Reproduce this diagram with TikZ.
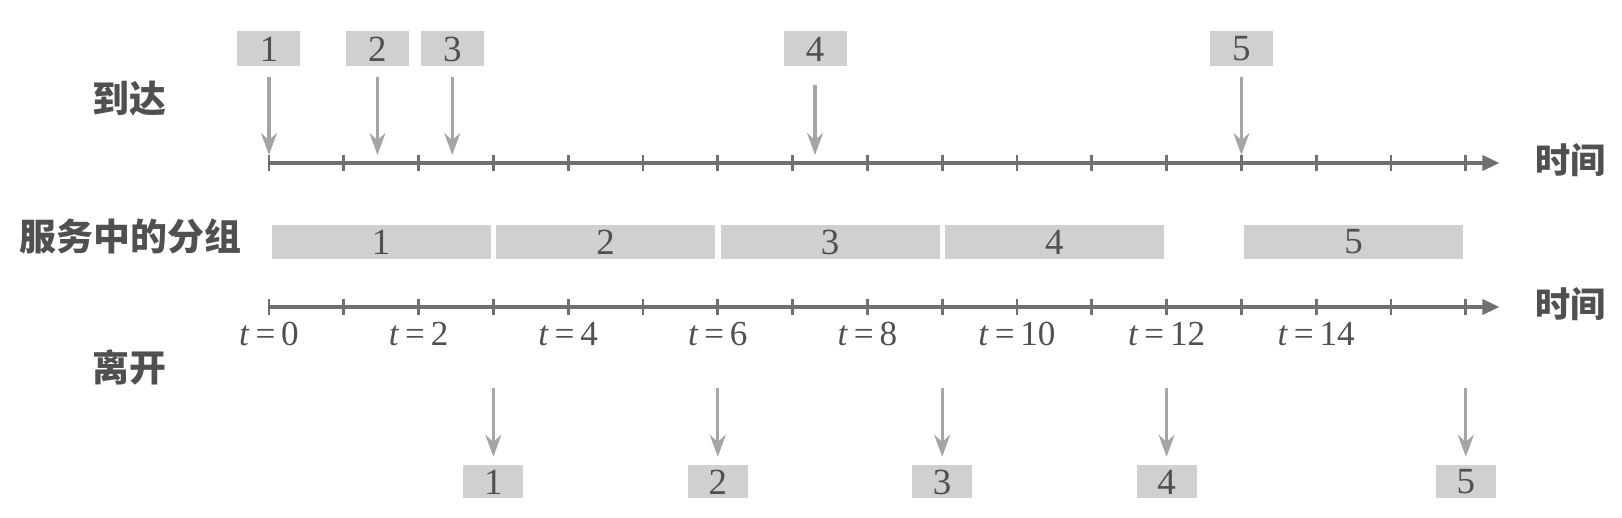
\documentclass[tikz,border=0pt]{standalone}
\usepackage{fontspec}
\setmainfont{Liberation Serif}
\newfontfamily\cjk{Noto Sans CJK SC}
\usetikzlibrary{arrows.meta}
\definecolor{boxgray}{RGB}{208,208,208}
\definecolor{axisgray}{RGB}{112,112,112}
\definecolor{arrgray}{RGB}{165,165,165}
\definecolor{txtgray}{RGB}{80,80,80}
\begin{document}
\begin{tikzpicture}[x=0.748cm, y=1cm,
  pkt/.style={fill=boxgray, text=txtgray, minimum width=0.63cm, minimum height=0.35cm, inner sep=0pt, font=\fontsize{10.5}{12}\selectfont},
  bar/.style={fill=boxgray, text=txtgray, minimum width=2.19cm, minimum height=0.34cm, inner sep=0pt, font=\fontsize{10.5}{12}\selectfont},
  lab/.style={text=txtgray, font=\cjk\bfseries\fontsize{10.5}{12}\selectfont},
  tlab/.style={text=txtgray, font=\fontsize{10}{12}\selectfont},
  axis/.style={draw=axisgray, line width=0.9pt, -{Triangle[length=1.7mm,width=1.5mm]}},
  arr/.style={draw=arrgray, line width=0.9pt, -{Stealth[length=2.2mm,width=1.6mm]}}]
  \useasboundingbox (-3.596,1.63) rectangle (18.088,-3.55);
  % Row labels
  \node[lab] (arr) at (-1.87,0.64) {到达};
  \node[lab] (srv) at (-1.85,-0.73) {服务中的分组};
  \node[lab] (dep) at (-1.87,-2.04) {离开};
  % Time axes
  \coordinate (o1) at (0,0);
  \coordinate (e1) at (16.45,0);
  \coordinate (o2) at (0,-1.44);
  \coordinate (e2) at (16.45,-1.44);
  \draw[axis] (o1) -- (e1);
  \draw[axis] (o2) -- (e2);
  \foreach \i in {0,...,16} {
    \draw[axisgray, line width=0.8pt] (\i,0.08) -- (\i,-0.08);
    \draw[axisgray, line width=0.8pt] (\i,-1.36) -- (\i,-1.52);
  }
  \node[lab, font=\cjk\bfseries\fontsize{10}{12}\selectfont, anchor=west] (time1) at (16.76,0.03) {时间};
  \node[lab, font=\cjk\bfseries\fontsize{10}{12}\selectfont, anchor=west] (time2) at (16.76,-1.41) {时间};
  \foreach \i in {0,2,...,14}
    \node[tlab] (t\i) at (\i,-1.71) {\textit{t}\,=\,\i};
  % Arriving packets
  \node[pkt] (a1) at (0,1.14) {1};
  \node[pkt] (a2) at (1.45,1.14) {2};
  \node[pkt] (a3) at (2.45,1.14) {3};
  \node[pkt] (a4) at (7.3,1.14) {4};
  \node[pkt] (a5) at (13,1.14) {5};
  \coordinate (x1) at (0,0.08);
  \coordinate (x2) at (1.45,0.08);
  \coordinate (x3) at (2.45,0.08);
  \coordinate (x4) at (7.3,0.08);
  \coordinate (x5) at (13,0.08);
  \draw[arr, shorten <=0.1cm] (a1) -- (x1);
  \draw[arr, shorten <=0.1cm] (a2) -- (x2);
  \draw[arr, shorten <=0.1cm] (a3) -- (x3);
  \draw[arr, shorten <=0.18cm] (a4) -- (x4);
  \draw[arr, shorten <=0.1cm] (a5) -- (x5);
  % Packets in service
  \node[bar] (s1) at (1.5,-0.79) {1};
  \node[bar] (s2) at (4.5,-0.79) {2};
  \node[bar] (s3) at (7.5,-0.79) {3};
  \node[bar] (s4) at (10.5,-0.79) {4};
  \node[bar] (s5) at (14.5,-0.79) {5};
  % Departing packets
  \node[pkt, minimum width=0.6cm, minimum height=0.33cm] (d1) at (3,-3.19) {1};
  \node[pkt, minimum width=0.6cm, minimum height=0.33cm] (d2) at (6,-3.19) {2};
  \node[pkt, minimum width=0.6cm, minimum height=0.33cm] (d3) at (9,-3.19) {3};
  \node[pkt, minimum width=0.6cm, minimum height=0.33cm] (d4) at (12,-3.19) {4};
  \node[pkt, minimum width=0.6cm, minimum height=0.33cm] (d5) at (16,-3.19) {5};
  \coordinate (y1) at (3,-2.25);
  \coordinate (y2) at (6,-2.25);
  \coordinate (y3) at (9,-2.25);
  \coordinate (y4) at (12,-2.25);
  \coordinate (y5) at (16,-2.25);
  \draw[arr, shorten >=0.08cm] (y1) -- (d1);
  \draw[arr, shorten >=0.08cm] (y2) -- (d2);
  \draw[arr, shorten >=0.08cm] (y3) -- (d3);
  \draw[arr, shorten >=0.08cm] (y4) -- (d4);
  \draw[arr, shorten >=0.08cm] (y5) -- (d5);
\end{tikzpicture}
\end{document}
